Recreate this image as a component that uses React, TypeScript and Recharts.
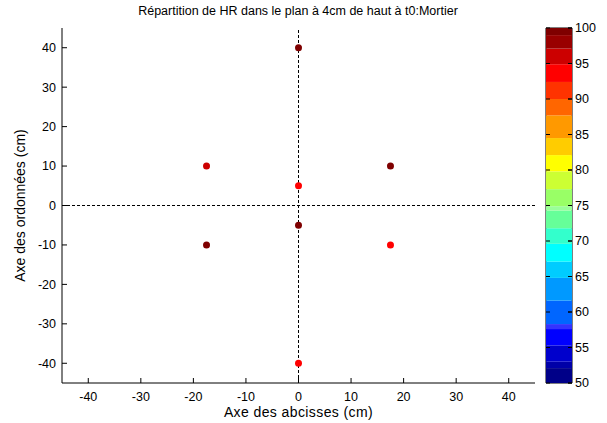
import {
  Bar,
  BarChart,
  Cell,
  ReferenceArea,
  ReferenceLine,
  Scatter,
  ScatterChart,
  XAxis,
  YAxis,
} from "recharts";

// sensor positions (cm) and measured HR (%)
const xPos = [0, -17.5, 17.5, 0, 0, -17.5, 17.5, 0];
const yPos = [40, 10, 10, 5, -5, -10, -10, -40];
const hrValues = [99.5, 96, 99.5, 93.5, 99.5, 99.5, 93.5, 93.5];

const axisTicks = [-40, -30, -20, -10, 0, 10, 20, 30, 40];

// colorbar band limits and colours (bottom -> top)
const hrLevels = [
  50, 52.1, 53.0, 55.3, 57.6, 58.3, 61.6, 64.8, 67.1, 69.6, 71.8, 74.3, 74.9,
  77.3, 79.8, 82.1, 84.5, 87.7, 90.0, 92.4, 94.9, 97.1, 99.0, 100,
];
const levelColors = [
  "#000088", "#0000a8", "#0000cc", "#0000ff", "#3333ff", "#0066ff", "#0099ff",
  "#00ccff", "#00ffff", "#33ffcc", "#66ff99", "#99ff99", "#99ff66", "#ccff33",
  "#ffff00", "#ffcc00", "#ff9900", "#ff6600", "#ff3300", "#ff0000", "#cc0000",
  "#990000", "#7f0000",
];
const colorbarTicks = [50, 55, 60, 65, 70, 75, 80, 85, 90, 95, 100];

const colorFor = (v: number) => {
  for (let i = 0; i < levelColors.length; i++) {
    if (v >= hrLevels[i] && v < hrLevels[i + 1]) return levelColors[i];
  }
  return levelColors[levelColors.length - 1];
};

const points = xPos.map((x, i) => ({
  x,
  y: yPos[i],
  hr: hrValues[i],
  color: colorFor(hrValues[i]),
}));

const cbRow: Record<string, number | string> = { name: "HR", base: hrLevels[0] };
levelColors.forEach((_, i) => {
  cbRow["b" + i] = hrLevels[i + 1] - hrLevels[i];
});
const cbData = [cbRow];

const font = "'Liberation Sans', Arial, sans-serif";
const tickStyle = { fill: "#000", fontSize: 12.5, fontFamily: font };

export default function App() {
  return (
    <div
      style={{
        position: "absolute",
        left: 0,
        top: 0,
        width: 607,
        height: 423,
        background: "#fff",
        fontFamily: font,
      }}
    >
      <div
        style={{
          position: "absolute",
          left: 0,
          width: 596,
          top: 4,
          textAlign: "center",
          fontSize: 12.5,
          color: "#000",
        }}
      >
        Répartition de HR dans le plan à 4cm de haut à t0:Mortier
      </div>
      <div style={{ position: "absolute", left: 0, top: 0 }}>
        <ScatterChart
          width={607}
          height={423}
          margin={{ top: 28, right: 72, bottom: 0, left: 0 }}
        >
          <XAxis
            type="number"
            dataKey="x"
            domain={[-45, 45]}
            ticks={axisTicks}
            allowDataOverflow
            height={40}
            stroke="#000"
            tickSize={-5}
            tickMargin={14}
            tick={tickStyle}
            label={{
              value: "Axe des abcisses (cm)",
              position: "insideBottom",
              offset: 6,
              fill: "#000",
              fontSize: 14,
              letterSpacing: 0.4,
              fontFamily: font,
            }}
          />
          <YAxis
            type="number"
            dataKey="y"
            domain={[-45, 45]}
            ticks={axisTicks}
            allowDataOverflow
            width={62}
            stroke="#000"
            tickSize={-5}
            tickMargin={11}
            tick={tickStyle}
            label={{
              value: "Axe des ordonnées (cm)",
              position: "insideLeft",
              angle: -90,
              textAnchor: "middle",
              offset: 20,
              fill: "#000",
              fontSize: 14,
              fontFamily: font,
            }}
          />
          <ReferenceLine x={0} stroke="#000" strokeDasharray="3 2" />
          <ReferenceLine y={0} stroke="#000" strokeDasharray="3 2" />
          <Scatter
            data={points}
            isAnimationActive={false}
            shape={(p: any) => (
              <circle cx={p.cx} cy={p.cy} r={3.5} fill={p.payload.color} />
            )}
          >
            {points.map((p, i) => (
              <Cell key={i} fill={p.color} />
            ))}
          </Scatter>
        </ScatterChart>
      </div>
      <div style={{ position: "absolute", left: 540, top: 0 }}>
        <BarChart
          width={67}
          height={423}
          data={cbData}
          margin={{ top: 28, right: 0, bottom: 40, left: 6 }}
          barCategoryGap={0}
        >
          <XAxis dataKey="name" hide />
          <YAxis
            yAxisId="r"
            orientation="right"
            type="number"
            domain={[50, 100]}
            ticks={colorbarTicks}
            allowDataOverflow
            width={35}
            axisLine={false}
            stroke="#000"
            tickSize={-4}
            tickMargin={7}
            tick={tickStyle}
            interval={0}
          />
          <Bar
            yAxisId="r"
            dataKey="base"
            stackId="cb"
            fill="transparent"
            isAnimationActive={false}
          />
          {levelColors.map((c, i) => (
            <Bar
              key={i}
              yAxisId="r"
              dataKey={"b" + i}
              stackId="cb"
              fill={c}
              isAnimationActive={false}
            />
          ))}
          <ReferenceArea
            yAxisId="r"
            y1={50}
            y2={100}
            fill="none"
            stroke="#000"
            ifOverflow="visible"
          />
          {colorbarTicks.map((t) => (
            <ReferenceLine
              key={t}
              yAxisId="r"
              y={t}
              stroke="#000"
              strokeDasharray="4 18 4 0"
            />
          ))}
        </BarChart>
      </div>
    </div>
  );
}
